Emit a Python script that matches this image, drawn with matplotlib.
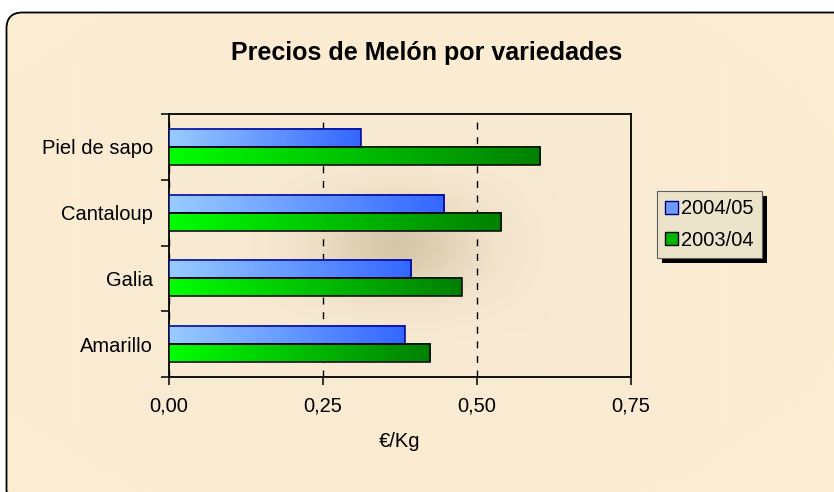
import numpy as np
import matplotlib
matplotlib.use('Agg')
import matplotlib.pyplot as plt
from matplotlib.patches import FancyBboxPatch, Patch, Rectangle
from matplotlib.colors import LinearSegmentedColormap
from matplotlib.ticker import FuncFormatter

# ---------------- data ----------------
categories = ['Piel de sapo', 'Cantaloup', 'Galia', 'Amarillo']
series_names = ['2004/05', '2003/04']
prices_2004_05 = [0.311, 0.447, 0.393, 0.383]
prices_2003_04 = [0.603, 0.539, 0.475, 0.424]
xticks = [0.0, 0.25, 0.50, 0.75]
title = 'Precios de Melón por variedades'
xlabel = '€/Kg'

plt.rcParams['font.family'] = ['Liberation Sans', 'DejaVu Sans']

W, H = 834, 492
fig = plt.figure(figsize=(W / 100, H / 100), dpi=100)
fig.patch.set_facecolor('white')

# ---------------- background (chart area with centre gradient) ----------------
bg = fig.add_axes([0, 0, 1, 1])
bg.set_xlim(0, W)
bg.set_ylim(H, 0)
bg.axis('off')
yy, xx = np.mgrid[0:H, 0:W] + 0.5
cx, cy = 398, 245
g = np.exp(-(((xx - cx) / 78.0) ** 2 + ((yy - cy) / 48.0) ** 2))
rect_d = np.maximum(np.abs(xx - cx) / 330.0, np.abs(yy - cy) / 185.0)
r = np.clip(1 - rect_d, 0, 1)
t = 0.78 * g + 0.13 * np.sqrt(r)
t = np.clip(t, 0, 1)[..., None]
edge = np.array([252, 237, 210]) / 255.0
centre = np.array([212, 196, 158]) / 255.0
img = edge * (1 - t) + centre * t
img[..., 2] = np.minimum(img[..., 2] + 0.03 * np.sqrt(r), 1)
frame = FancyBboxPatch((6.5, 12.5), 845, 495,
                       boxstyle='round,pad=0,rounding_size=16',
                       fc='none', ec='black', lw=1.3, zorder=2)
bg.add_patch(frame)
im = bg.imshow(img, extent=(0, W, H, 0), aspect='auto', zorder=0,
               interpolation='bilinear')
im.set_clip_path(frame)

# ---------------- main axes ----------------
ax = fig.add_axes([169 / W, 1 - 377 / H, 462 / W, 263 / H])
ax.set_facecolor('none')

y = np.arange(len(categories))
h = 0.275
bars_new = ax.barh(y - h / 2, prices_2004_05, height=h, fc='none',
                   ec='#000090', lw=1.1, zorder=4)
bars_old = ax.barh(y + h / 2, prices_2003_04, height=h, fc='none',
                   ec='black', lw=1.1, zorder=4)

blue_cmap = LinearSegmentedColormap.from_list('b', ['#99ccff', '#3366ff'])
green_cmap = LinearSegmentedColormap.from_list('g', ['#00ff00', '#008000'])
grad = np.linspace(0, 1, 256)[None, :]
for bars, cmap in ((bars_new, blue_cmap), (bars_old, green_cmap)):
    for b in bars:
        x0, y0 = b.get_x(), b.get_y()
        bw, bh = b.get_width(), b.get_height()
        ax.imshow(grad, extent=(x0, x0 + bw, y0 + bh, y0), cmap=cmap,
                  aspect='auto', zorder=3, interpolation='bilinear')

ax.set_xlim(0, 0.75)
ax.set_ylim(len(categories) - 0.5, -0.5)

ax.set_yticks(y)
ax.set_yticklabels(categories, fontsize=14.5)
ax.set_yticks(np.arange(-0.5, len(categories), 1.0), minor=True)
ax.tick_params(axis='y', which='major', length=0, pad=11.5)
ax.tick_params(axis='y', which='minor', length=6, width=1.1, direction='out')

ax.set_xticks(xticks)
ax.xaxis.set_major_formatter(FuncFormatter(lambda v, p: f'{v:.2f}'.replace('.', ',')))
ax.tick_params(axis='x', which='major', length=6, width=1.1, direction='out',
               labelsize=14.5, pad=8)

ax.xaxis.grid(True, color='black', lw=1.0, ls=(0, (5, 5.5)))
ax.set_axisbelow(True)
for s in ax.spines.values():
    s.set_linewidth(1.3)
    s.set_color('black')

ax.set_xlabel(xlabel, fontsize=14.5, labelpad=12)

fig.text(427 / W, 1 - 53 / H, title, ha='center', va='center',
         fontsize=18, fontweight='bold')

# ---------------- legend ----------------
handles = [Patch(facecolor='#6f9cff', edgecolor='#000080', label=series_names[0]),
           Patch(facecolor='#00b400', edgecolor='black', label=series_names[1])]
leg = fig.legend(handles=handles, loc='upper left',
                 bbox_to_anchor=(657 / W, 1 - 191 / H), frameon=True,
                 fancybox=False, fontsize=14.5, handlelength=0.6,
                 handleheight=0.6, handletextpad=0.15, borderpad=0.42,
                 labelspacing=0.6, borderaxespad=0)
fr = leg.get_frame()
fr.set_facecolor('#ebe3ca')
fr.set_edgecolor('#606060')
fr.set_linewidth(0.8)
fr.set_alpha(1)

fig.canvas.draw()
bb = leg.get_frame().get_window_extent()
shadow = Rectangle((bb.x0 + 5, bb.y0 - 5), bb.width, bb.height,
                   transform=None, fc='black', ec='none', zorder=4)
fig.add_artist(shadow)
leg.set_zorder(5)

fig.savefig('out.png', dpi=100, facecolor='white')
